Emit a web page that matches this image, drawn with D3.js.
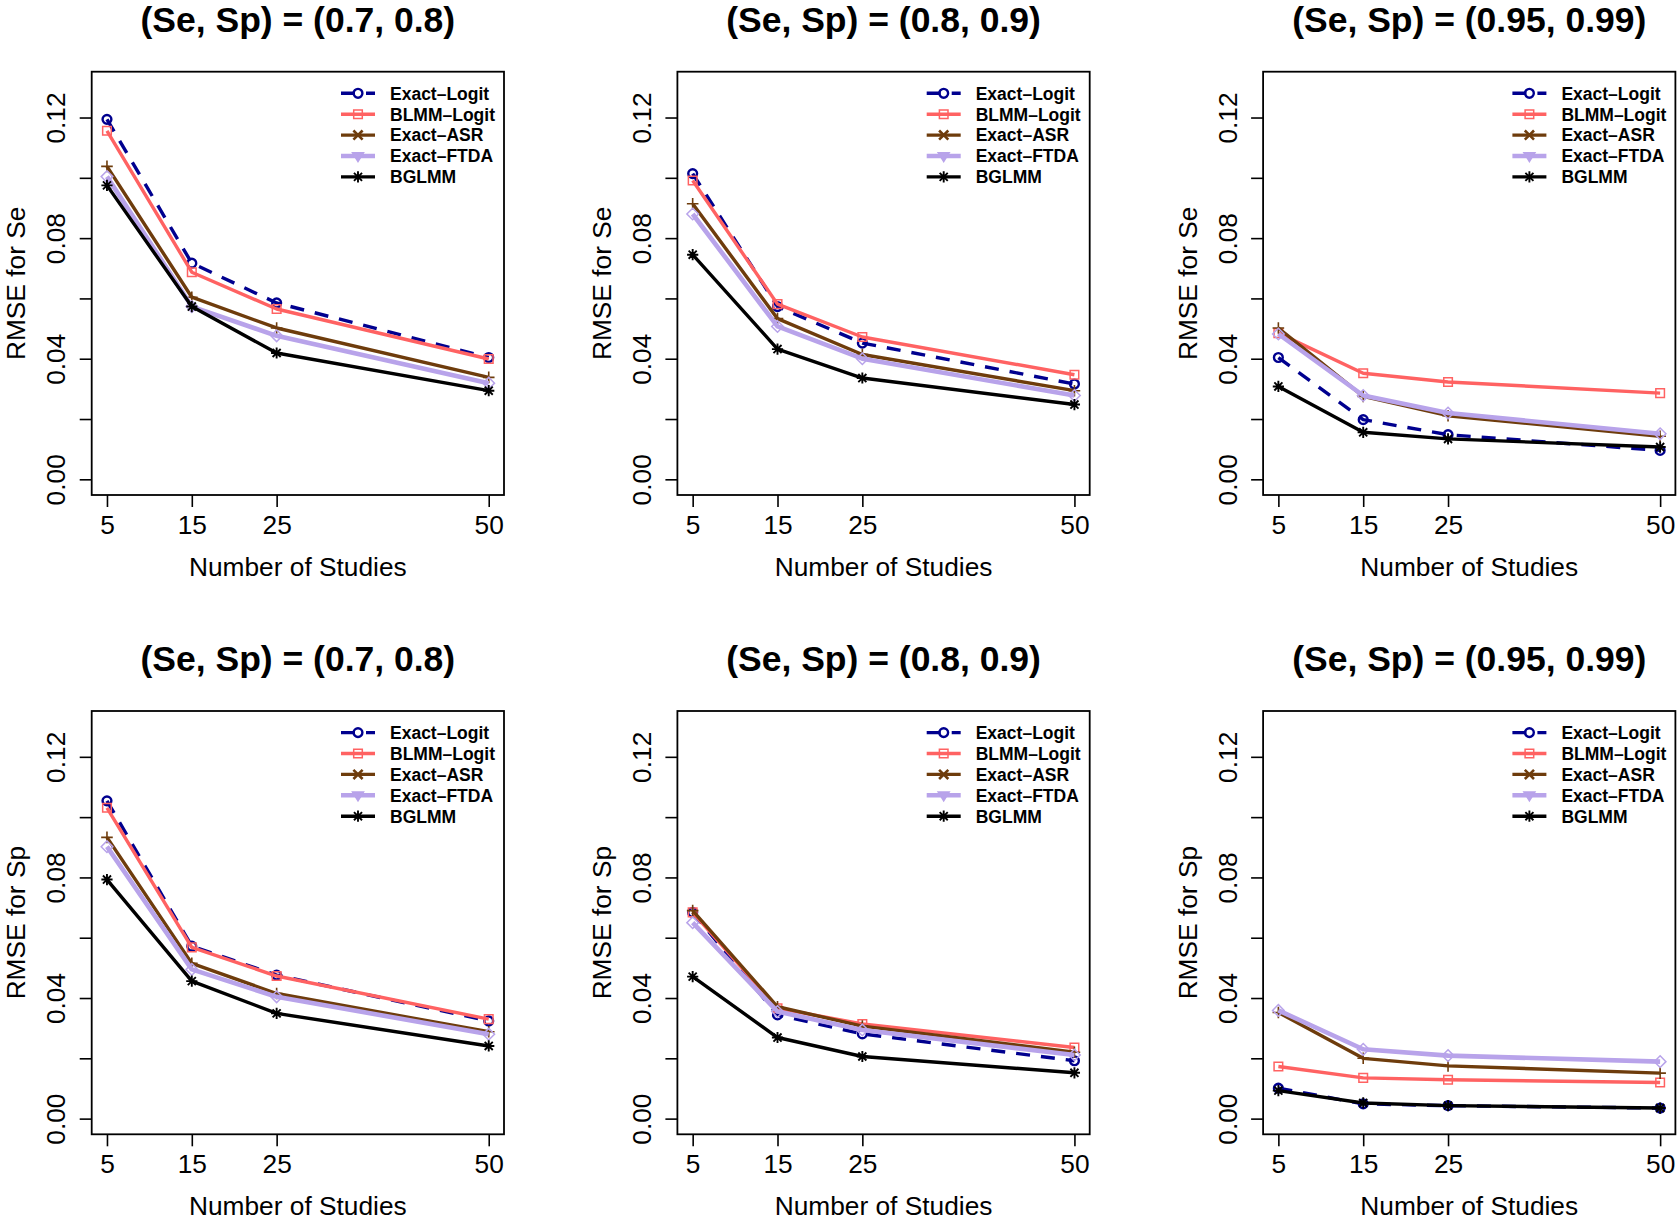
<!DOCTYPE html>
<html>
<head>
<meta charset="utf-8">
<script src="https://cdn.jsdelivr.net/npm/d3@7"></script>
<style>
  body { margin: 0; background: #fff; }
  text { font-family: "Liberation Sans", Arial, Helvetica, sans-serif; fill: #000; }
</style>
</head>
<body>
<svg id="chart" width="1677" height="1221"></svg>
<script>
// ---- data ----
const studies = [5, 15, 25, 50];
const methods = ["Exact\u2013Logit", "BLMM\u2013Logit", "Exact\u2013ASR", "Exact\u2013FTDA", "BGLMM"];
const panelTitles = ["(Se, Sp) = (0.7, 0.8)", "(Se, Sp) = (0.8, 0.9)", "(Se, Sp) = (0.95, 0.99)",
                     "(Se, Sp) = (0.7, 0.8)", "(Se, Sp) = (0.8, 0.9)", "(Se, Sp) = (0.95, 0.99)"];
const yTitles = ["RMSE for Se", "RMSE for Se", "RMSE for Se", "RMSE for Sp", "RMSE for Sp", "RMSE for Sp"];
const yTicks = [0, 0.02, 0.04, 0.06, 0.08, 0.10, 0.12];
const yTickLabels = ["0.00", "", "0.04", "", "0.08", "", "0.12"];

// rows follow the order of methods, columns follow studies
const rmseSe_07_08 = [
  [0.1194, 0.0717, 0.0585, 0.0404],
  [0.1156, 0.0687, 0.0565, 0.0399],
  [0.1038, 0.0604, 0.0502, 0.0338],
  [0.1004, 0.0573, 0.0476, 0.0319],
  [0.0975, 0.0573, 0.0419, 0.0294]
];
const rmseSe_08_09 = [
  [0.1014, 0.0573, 0.0452, 0.0316],
  [0.0991, 0.0581, 0.0472, 0.0347],
  [0.0914, 0.0533, 0.0414, 0.0294],
  [0.0880, 0.0507, 0.0400, 0.0278],
  [0.0745, 0.0432, 0.0336, 0.0248]
];
const rmseSe_095_099 = [
  [0.0404, 0.0198, 0.0148, 0.0096],
  [0.0485, 0.0352, 0.0323, 0.0286],
  [0.0502, 0.0275, 0.0211, 0.0143],
  [0.0482, 0.0278, 0.0220, 0.0151],
  [0.0308, 0.0156, 0.0134, 0.0107]
];
const rmseSp_07_08 = [
  [0.1054, 0.0572, 0.0476, 0.0324],
  [0.1031, 0.0568, 0.0473, 0.0330],
  [0.0933, 0.0515, 0.0415, 0.0288],
  [0.0902, 0.0495, 0.0404, 0.0280],
  [0.0793, 0.0456, 0.0349, 0.0241]
];
const rmseSp_08_09 = [
  [0.0684, 0.0344, 0.0281, 0.0192],
  [0.0684, 0.0366, 0.0314, 0.0236],
  [0.0690, 0.0371, 0.0307, 0.0220],
  [0.0650, 0.0355, 0.0294, 0.0211],
  [0.0471, 0.0269, 0.0206, 0.0152]
];
const rmseSp_095_099 = [
  [0.0101, 0.0049, 0.0043, 0.0035],
  [0.0173, 0.0135, 0.0129, 0.0120],
  [0.0352, 0.0200, 0.0175, 0.0151],
  [0.0359, 0.0230, 0.0209, 0.0189],
  [0.0093, 0.0052, 0.0043, 0.0035]
];
const panels = [rmseSe_07_08, rmseSe_08_09, rmseSe_095_099, rmseSp_07_08, rmseSp_08_09, rmseSp_095_099];

// ---- styles ----
const colors = ["#00008F", "#FF6262", "#6E3C0C", "#B8A3EA", "#000000"];
const lineWidths = [3.4, 3.4, 3.4, 4.6, 3.4];
const dashes = ["14,11", null, null, null, null];
const pointShapes = ["circle", "square", "plus", "diamond", "asterisk"];
const legendShapes = ["circle", "square", "cross", "triDown", "asterisk"];

const boxW = 412.3, boxH = 423.3;
const colX = [91.7, 677.4, 1263.1];
const rowY = [71.7, 711];

function markerPath(kind, s) {
  const p = d3.path();
  if (kind === "circle") {
    p.moveTo(s, 0); p.arc(0, 0, s, 0, 2 * Math.PI);
  } else if (kind === "square") {
    p.rect(-s, -s, 2 * s, 2 * s);
  } else if (kind === "plus") {
    p.moveTo(-s, 0); p.lineTo(s, 0); p.moveTo(0, -s); p.lineTo(0, s);
  } else if (kind === "cross") {
    p.moveTo(-s, -s); p.lineTo(s, s); p.moveTo(-s, s); p.lineTo(s, -s);
  } else if (kind === "diamond") {
    p.moveTo(0, -s); p.lineTo(s, 0); p.lineTo(0, s); p.lineTo(-s, 0); p.closePath();
  } else if (kind === "triDown") {
    p.moveTo(-s, -s * 0.6); p.lineTo(s, -s * 0.6); p.lineTo(0, s); p.closePath();
  } else if (kind === "asterisk") {
    const d = s * 0.72;
    p.moveTo(-s, 0); p.lineTo(s, 0); p.moveTo(0, -s); p.lineTo(0, s);
    p.moveTo(-d, -d); p.lineTo(d, d); p.moveTo(-d, d); p.lineTo(d, -d);
  }
  return p.toString();
}
const markerSize = { circle: 4.4, square: 4.3, plus: 5.8, cross: 4.6, diamond: 5.8, triDown: 5.5, asterisk: 5.6 };
const markerStroke = { circle: 2.4, square: 1.5, plus: 1.6, cross: 2.6, diamond: 1.5, triDown: 1.5, asterisk: 1.9 };

const svg = d3.select("#chart");

panels.forEach(function(data, k) {
  const r = Math.floor(k / 3), c = k % 3;
  const g = svg.append("g").attr("transform", `translate(${colX[c]},${rowY[r]})`);

  const x = d3.scaleLinear().domain([3.2, 51.8]).range([0, boxW]);
  const y = d3.scaleLinear().domain([-0.0052, 0.1352]).range([boxH, 0]);

  // axes
  const xAxis = g.append("g")
    .attr("transform", `translate(0,${boxH})`)
    .call(d3.axisBottom(x).tickValues(studies).tickSize(12).tickPadding(8).tickFormat(d3.format("d")));
  xAxis.select(".domain").remove();
  xAxis.selectAll("line").attr("stroke", "#000").attr("stroke-width", 1.6);
  xAxis.selectAll("text").attr("font-size", 26.3).attr("font-family", "Liberation Sans, Arial, sans-serif");

  const yAxis = g.append("g")
    .call(d3.axisLeft(y).tickValues(yTicks).tickSize(12).tickFormat((d, i) => yTickLabels[i]));
  yAxis.select(".domain").remove();
  yAxis.selectAll("line").attr("stroke", "#000").attr("stroke-width", 1.6);
  yAxis.selectAll("text")
    .attr("x", null).attr("dy", "0.36em")
    .attr("text-anchor", "middle")
    .attr("transform", "translate(-36,0) rotate(-90)")
    .attr("font-size", 26.3).attr("font-family", "Liberation Sans, Arial, sans-serif");

  // box
  g.append("rect")
    .attr("width", boxW).attr("height", boxH)
    .attr("fill", "none").attr("stroke", "#000").attr("stroke-width", 1.8);

  // titles
  g.append("text")
    .attr("x", boxW / 2).attr("y", -39.7)
    .attr("text-anchor", "middle")
    .attr("font-size", 35.5).attr("font-weight", "bold")
    .text(panelTitles[k]);

  g.append("text")
    .attr("x", boxW / 2).attr("y", boxH + 81)
    .attr("text-anchor", "middle")
    .attr("font-size", 26.3)
    .text("Number of Studies");

  g.append("text")
    .attr("transform", `translate(-76,${boxH / 2}) rotate(-90)`)
    .attr("dy", "0.36em")
    .attr("text-anchor", "middle")
    .attr("font-size", 26.3)
    .text(yTitles[k]);

  // series
  const line = d3.line().x((d, i) => x(studies[i])).y(d => y(d));
  data.forEach(function(vals, m) {
    g.append("path")
      .attr("d", line(vals))
      .attr("fill", "none")
      .attr("stroke", colors[m])
      .attr("stroke-width", lineWidths[m])
      .attr("stroke-dasharray", dashes[m])
      .attr("stroke-linejoin", "round");
    const shape = pointShapes[m];
    g.selectAll(null)
      .data(vals)
      .join("path")
      .attr("transform", (d, i) => `translate(${x(studies[i])},${y(d)})`)
      .attr("d", markerPath(shape, markerSize[shape]))
      .attr("fill", "none")
      .attr("stroke", colors[m])
      .attr("stroke-width", markerStroke[shape]);
  });

  // legend
  const leg = g.append("g").attr("transform", `translate(${boxW - 163},21.6)`);
  methods.forEach(function(name, m) {
    const row = leg.append("g").attr("transform", `translate(0,${m * 20.9})`);
    row.append("line")
      .attr("x1", 0).attr("x2", 34)
      .attr("stroke", colors[m])
      .attr("stroke-width", lineWidths[m])
      .attr("stroke-dasharray", dashes[m]);
    const shape = legendShapes[m];
    row.append("path")
      .attr("transform", "translate(17,0)")
      .attr("d", markerPath(shape, markerSize[shape]))
      .attr("fill", shape === "triDown" ? colors[m] : "none")
      .attr("stroke", colors[m])
      .attr("stroke-width", markerStroke[shape]);
    row.append("text")
      .attr("x", 49).attr("dy", "0.36em")
      .attr("font-size", 17.5).attr("font-weight", "bold")
      .text(name);
  });
});
</script>
</body>
</html>
